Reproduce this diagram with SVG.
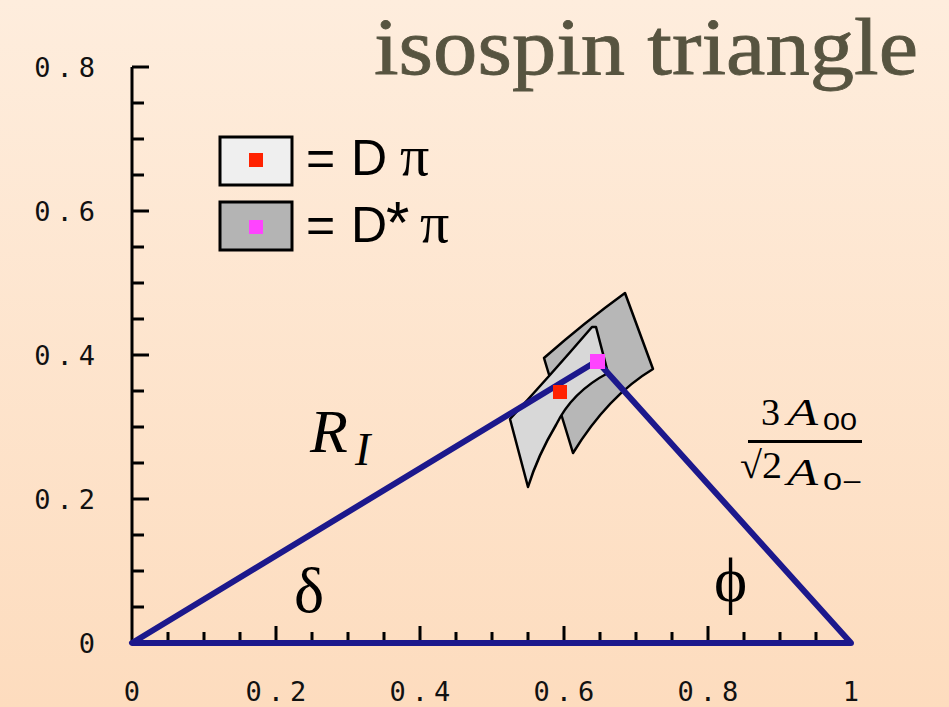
<svg xmlns="http://www.w3.org/2000/svg" width="949" height="707" viewBox="0 0 949 707">
<defs>
<linearGradient id="bg" x1="0" y1="0" x2="0" y2="1">
<stop offset="0" stop-color="#feeddd"/>
<stop offset="1" stop-color="#fddcbe"/>
</linearGradient>
</defs>
<style>
.ax{stroke:#000;stroke-width:3;fill:none}
.tl{font-family:"DejaVu Sans Mono",monospace;font-size:27px;letter-spacing:6px;fill:#111}
.tri{stroke:#1c188c;stroke-width:6;fill:none;stroke-linejoin:round;stroke-linecap:round}
.srf{font-family:"Liberation Serif",serif;fill:#000}
.sans{font-family:"Liberation Sans",sans-serif;fill:#000}
.blob{stroke:#000;stroke-width:2.5;stroke-linejoin:round}
</style>
<rect width="949" height="707" fill="url(#bg)"/>
<text id="title" x="374" y="74" class="srf" style="fill:#575440;font-size:80px;stroke:#575440;stroke-width:0.8" textLength="544" lengthAdjust="spacingAndGlyphs">isospin triangle</text>
<g id="axes">
<path class="ax" d="M132,67 V643 M132,67 H149 M132,211 H149 M132,355 H149 M132,499 H149 M132,103 H144 M132,139 H144 M132,175 H144 M132,247 H144 M132,283 H144 M132,319 H144 M132,391 H144 M132,427 H144 M132,463 H144 M132,535 H144 M132,571 H144 M132,607 H144"/>
<path class="ax" d="M168,643 V632 M204,643 V632 M240,643 V632 M276,643 V626 M312,643 V632 M348,643 V632 M384,643 V632 M420,643 V626 M456,643 V632 M492,643 V632 M528,643 V632 M564,643 V626 M600,643 V632 M636,643 V632 M672,643 V632 M708,643 V626 M744,643 V632 M780,643 V632 M816,643 V632"/>
<g class="tl" text-anchor="end">
<text x="101" y="77">0.8</text>
<text x="101" y="221">0.6</text>
<text x="101" y="365">0.4</text>
<text x="101" y="509">0.2</text>
<text x="101" y="653">0</text>
</g>
<g class="tl" text-anchor="middle">
<text x="135" y="701">0</text>
<text x="279" y="701">0.2</text>
<text x="423" y="701">0.4</text>
<text x="567" y="701">0.6</text>
<text x="711" y="701">0.8</text>
<text x="854" y="701">1</text>
</g>
</g>
<g id="regions">
<path class="blob" fill="#b7b7b7" d="M547,368 L544,358 Q585,322 625,293 L653,369 Q608,396 573,453 L566,430 Z"/>
<path class="blob" fill="#d8d8d8" d="M528,487 L510,419 Q548,378 592,327 L596,327 L608,373 Q572,392 556,425 Q538,455 528,487 Z"/>
</g>
<g id="connectors">
<path class="tri" d="M132,643 L851,643 L597,361 Z"/>
</g>
<g id="points">
<rect x="553" y="385" width="14" height="14" fill="#ff2200"/>
<rect x="590" y="354" width="15" height="15" fill="#ff44ff"/>
</g>
<g id="legend">
<rect x="220" y="137" width="72" height="48" fill="#efefef" stroke="#000" stroke-width="3"/>
<rect x="249" y="153" width="14" height="14" fill="#ff2200"/>
<rect x="220" y="202" width="72" height="48" fill="#b4b4b4" stroke="#000" stroke-width="3"/>
<rect x="249" y="220" width="14" height="14" fill="#ff44ff"/>
<text y="175" class="sans" style="font-size:50px"><tspan x="306">=</tspan><tspan x="351">D</tspan><tspan x="400" class="srf" style="font-size:58px">π</tspan></text>
<text y="242" class="sans" style="font-size:50px"><tspan x="306">=</tspan><tspan x="351">D</tspan><tspan x="386" y="243" style="font-size:60px">*</tspan><tspan x="420" y="242" class="srf" style="font-size:58px">π</tspan></text>
</g>
<g id="labels">
<text x="310" y="452" class="srf" style="font-size:62px;font-style:italic">R</text>
<text x="355" y="465" class="srf" style="font-size:46px;font-style:italic">I</text>
<text x="294" y="612" class="srf" style="font-size:64px">δ</text>
<text x="714" y="601" class="srf" style="font-size:63px">ϕ</text>
<text x="761" y="425" class="srf" style="font-size:38px">3</text>
<text x="787" y="425" class="srf" style="font-size:38px;font-style:italic" textLength="31" lengthAdjust="spacingAndGlyphs">A</text>
<text x="823" y="430" class="sans" style="font-size:24px" textLength="34" lengthAdjust="spacingAndGlyphs">00</text>
<line x1="748" y1="441.5" x2="862" y2="441.5" stroke="#000" stroke-width="3"/>
<text x="740" y="478" class="srf" style="font-size:38px" textLength="42" lengthAdjust="spacingAndGlyphs">√2</text>
<text x="787" y="485" class="srf" style="font-size:38px;font-style:italic" textLength="31" lengthAdjust="spacingAndGlyphs">A</text>
<text x="823" y="490" class="sans" style="font-size:24px" textLength="39" lengthAdjust="spacingAndGlyphs">0−</text>
</g>
</svg>
